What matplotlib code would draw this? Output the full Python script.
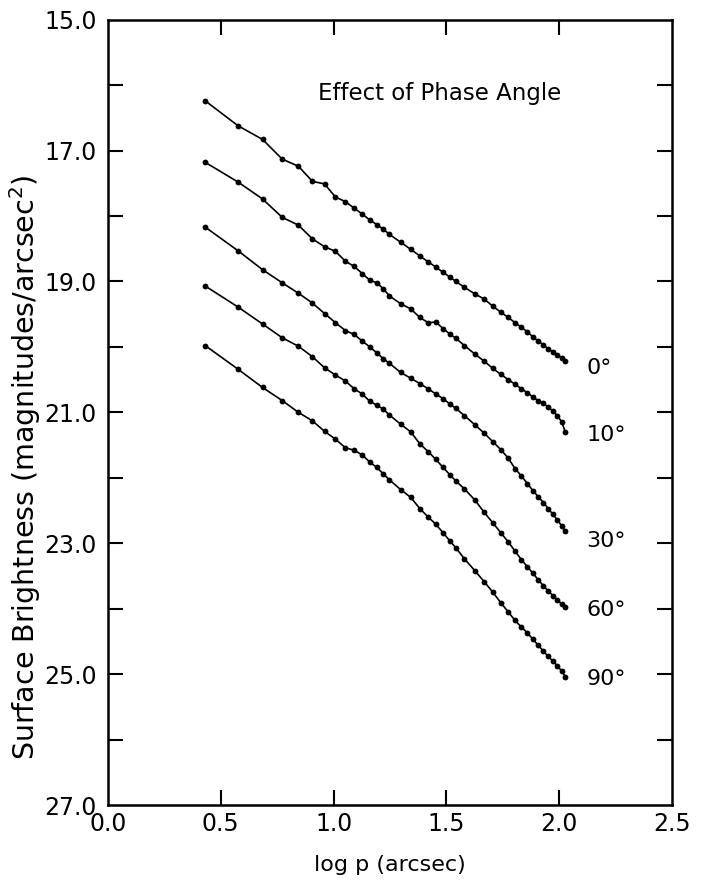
import matplotlib
matplotlib.use('Agg')
import matplotlib.pyplot as plt

# log p grid (arcsec)
log_p = [0.431, 0.576, 0.685, 0.772, 0.844, 0.906, 0.960, 1.008, 1.052, 1.091,
         1.127, 1.160, 1.191, 1.220, 1.247, 1.297, 1.342, 1.382, 1.419, 1.453,
         1.485, 1.514, 1.542, 1.580, 1.626, 1.668, 1.706, 1.741, 1.774, 1.804,
         1.832, 1.859, 1.884, 1.907, 1.930, 1.951, 1.972, 1.991, 2.010, 2.027]

sb_0 = [16.24, 16.62, 16.83, 17.13, 17.24, 17.47, 17.51, 17.71, 17.78, 17.88,
        17.97, 18.06, 18.13, 18.20, 18.28, 18.40, 18.51, 18.61, 18.70, 18.78,
        18.86, 18.93, 19.00, 19.09, 19.19, 19.27, 19.38, 19.47, 19.55, 19.63,
        19.70, 19.77, 19.85, 19.91, 19.97, 20.03, 20.08, 20.12, 20.17, 20.22]

sb_10 = [17.18, 17.48, 17.74, 18.02, 18.14, 18.35, 18.47, 18.54, 18.69, 18.77,
         18.88, 18.98, 19.02, 19.11, 19.22, 19.34, 19.42, 19.55, 19.63, 19.62,
         19.72, 19.80, 19.87, 19.98, 20.11, 20.22, 20.33, 20.42, 20.50, 20.57,
         20.64, 20.70, 20.77, 20.82, 20.86, 20.92, 20.98, 21.05, 21.14, 21.30]

sb_30 = [18.17, 18.53, 18.82, 19.02, 19.18, 19.33, 19.49, 19.63, 19.75, 19.81,
         19.91, 20.00, 20.09, 20.18, 20.25, 20.39, 20.48, 20.56, 20.64, 20.72,
         20.79, 20.87, 20.94, 21.05, 21.19, 21.32, 21.45, 21.57, 21.70, 21.86,
         21.97, 22.09, 22.20, 22.29, 22.38, 22.47, 22.56, 22.64, 22.73, 22.82]

sb_60 = [19.07, 19.39, 19.65, 19.86, 19.99, 20.15, 20.32, 20.43, 20.52, 20.64,
         20.72, 20.83, 20.89, 20.95, 21.04, 21.18, 21.30, 21.48, 21.60, 21.72,
         21.84, 21.95, 22.05, 22.17, 22.34, 22.53, 22.69, 22.84, 22.98, 23.12,
         23.25, 23.36, 23.46, 23.56, 23.65, 23.73, 23.80, 23.86, 23.93, 23.98]

sb_90 = [19.98, 20.34, 20.62, 20.82, 21.00, 21.13, 21.29, 21.41, 21.54, 21.58,
         21.65, 21.76, 21.84, 21.94, 22.03, 22.18, 22.30, 22.47, 22.60, 22.71,
         22.84, 22.96, 23.07, 23.24, 23.42, 23.59, 23.75, 23.91, 24.05, 24.18,
         24.28, 24.37, 24.47, 24.56, 24.65, 24.73, 24.80, 24.87, 24.95, 25.04]

curves = [sb_0, sb_10, sb_30, sb_60, sb_90]
angle_labels = ['0°', '10°', '30°', '60°', '90°']
label_y = [20.33, 21.35, 22.97, 24.02, 25.08]

xticks = [0.0, 0.5, 1.0, 1.5, 2.0, 2.5]
yticks = [15, 16, 17, 18, 19, 20, 21, 22, 23, 24, 25, 26, 27]
ytick_labels = ['15.0', '', '17.0', '', '19.0', '', '21.0', '', '23.0', '', '25.0', '', '27.0']

plt.rcParams['font.family'] = ['DejaVu Sans']

fig = plt.figure(figsize=(7.03, 8.86), dpi=100)
ax = fig.add_axes([0.1536, 0.0914, 0.8024, 0.8864])

for sb in curves:
    ax.plot(log_p, sb, color='black', lw=1.2, marker='o', ms=4.2,
            markeredgewidth=0)

for lab, y in zip(angle_labels, label_y):
    ax.text(2.12, y, lab, fontsize=16, ha='left', va='center')

ax.text(1.47, 16.13, 'Effect of Phase Angle', fontsize=16.5, ha='center', va='center')

ax.set_xlim(0, 2.5)
ax.set_ylim(27, 15)
ax.set_xticks(xticks)
ax.set_xticklabels([f'{v:.1f}' for v in xticks])
ax.set_yticks(yticks)
ax.set_yticklabels(ytick_labels)

ax.tick_params(direction='in', length=11, width=1.5, labelsize=17,
               top=True, right=True)
ax.tick_params(axis='y', pad=8)
ax.tick_params(axis='x', pad=5)
# no ticks at the box corners
for t in ax.xaxis.get_major_ticks()[0::5]:
    t.tick1line.set_visible(False)
    t.tick2line.set_visible(False)
for t in ax.yaxis.get_major_ticks()[0::12]:
    t.tick1line.set_visible(False)
    t.tick2line.set_visible(False)

for s in ax.spines.values():
    s.set_linewidth(1.8)

ax.set_xlabel('log p (arcsec)', fontsize=16)
ax.set_ylabel('Surface Brightness (magnitudes/arcsec$^2$)', fontsize=20.5)
ax.xaxis.set_label_coords(0.5, -0.064)
ax.yaxis.set_label_coords(-0.116, 0.43)

fig.savefig('out.png', dpi=100)
